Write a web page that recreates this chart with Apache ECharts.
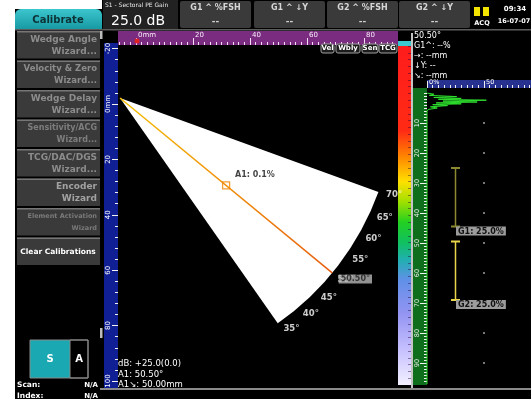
<!DOCTYPE html>
<html>
<head>
<meta charset="utf-8">
<script src="https://cdn.jsdelivr.net/npm/echarts@6/dist/echarts.min.js"></script>
<style>
  html, body { margin: 0; padding: 0; background: #fff; }
  #chart { width: 531px; height: 399px; }
</style>
</head>
<body>
<div id="chart"></div>
<script>
// ---- data ----
const fanAngles = [35, 70];                 // sector beam angles (deg)
const fanDepth = 100;                       // sound path at the arc (mm)
const arcLabelAngles = [35, 40, 45, 50, 55, 60, 65, 70];
const beamAngle = 50.5;
const cursorPath = 50;                      // A1 cursor sound path (mm)
const cursorReading = "A1: 0.1%";

const rulerXMajor = [0, 20, 40, 60, 80];
const rulerYMajor = [-20, 0, 20, 40, 60, 80, 100];
const ascanDepthMajor = [10, 20, 30, 40, 50, 60, 70, 80, 90];
const ascanAmpMajor = [0, 50];

// A-scan trace: [amplitude %, depth]
const ascanTrace = [
  [0, 0], [6, 0.4], [2, 0.8], [26, 1.2], [6, 1.5], [30, 1.8], [10, 2.1],
  [52, 2.4], [14, 2.7], [44, 3.0], [8, 3.3], [30, 3.6], [5, 3.9], [18, 4.2],
  [3, 4.6], [9, 5.0], [1, 5.5], [0, 6.2], [0, 97],
];
const gate1 = [[25, 25], [25, 44.5]];
const gate2 = [[25, 49.5], [25, 69]];
const gateLabels = ["G1: 25.0%", "G2: 25.0%"];
const gridDotDepths = [10, 20, 30, 40, 50, 60, 70, 80, 90];
const gridDotAmp = 50;

const wizardButtons = [
  { text: "Wedge Angle\nWizard...", color: "#8c8c8c", size: 9 },
  { text: "Velocity & Zero\nWizard...", color: "#8c8c8c", size: 8.5 },
  { text: "Wedge Delay\nWizard...", color: "#8c8c8c", size: 9 },
  { text: "Sensitivity/ACG\nWizard...", color: "#7e7e7e", size: 8 },
  { text: "TCG/DAC/DGS\nWizard...", color: "#8c8c8c", size: 9 },
  { text: "Encoder\nWizard", color: "#a2a2a2", size: 9 },
  { text: "Element Activation\nWizard", color: "#7a7a7a", size: 6.5 },
  { text: "Clear Calibrations", color: "#ffffff", size: 7.5 },
];
const headerCells = ["G1 ^ %FSH", "G1 ^ \u2193Y", "G2 ^ %FSH", "G2 ^ \u2193Y"];
const readouts = ["50.50\u00b0", "G1^: --%", "\u2192: --mm", "\u2193Y: --", "\u2198: --mm"];
const scanReadouts = ["dB: +25.0(0.0)", "A1: 50.50\u00b0", "A1\u2198: 50.00mm"];
const toolButtons = ["Vel", "Wbly", "Sen", "TCG"];

// ---- layout ----
const FONT = '"DejaVu Sans", sans-serif';
const PX_POLAR = 2.75;      // px per mm along the beam
const PX_RULER_X = 2.85;    // px per mm, top ruler
const PX_RULER_Y = 2.77;    // px per mm, left ruler
const PX_DEPTH = 3;         // px per unit, A-scan depth
const PX_AMP = 1.14;        // px per %, A-scan amplitude
const apex = [120, 98];

const steps = (from, to, step) => {
  const out = [];
  for (let v = from; v <= to + 1e-9; v += step) out.push(+v.toFixed(3));
  return out;
};

const rect = (x, y, w, h, fill, o = {}) => ({
  type: "rect", silent: true, z: o.z ?? -5,
  shape: { x, y, width: w, height: h, r: o.r || 0 },
  style: { fill, stroke: o.stroke || null, lineWidth: o.lw || 0 },
});
const text = (x, y, t, font, fill, align = "left", o = {}) => ({
  type: "text", silent: true, z: o.z ?? 50, x, y,
  style: { text: t, font, fill, align, verticalAlign: o.va || "middle", lineHeight: o.lh },
});

const g = [];
// screen background
g.push(rect(15, 9, 516, 390, "#000", { z: -10 }));
g.push(rect(102, 0, 429, 9, "#000", { z: -10 }));
// header
g.push(rect(15, 9, 87, 21, new echarts.graphic.LinearGradient(0, 0, 0, 1, [
  { offset: 0, color: "#3cc6ce" }, { offset: 1, color: "#1597a0" },
]), { r: [6, 6, 0, 0] }));
g.push(text(58, 20, "Calibrate", `bold 10px ${FONT}`, "#0c3236", "center"));
g.push(rect(103, 0, 75, 29, "#222"));
g.push(text(105, 5, "S1 - Sectoral PE Gain", `6px ${FONT}`, "#e8e8e8"));
g.push(text(111, 21, "25.0 dB", `14px ${FONT}`, "#fff"));
const cellX = [180, 254, 327, 399];
headerCells.forEach((t, i) => {
  g.push(rect(cellX[i], 1, 71, 27, "#3a3a3a", { r: 2 }));
  g.push(text(cellX[i] + 35.5, 8, t, `bold 8px ${FONT}`, "#d6d6d6", "center"));
  g.push(text(cellX[i] + 35.5, 22, "--", `bold 9px ${FONT}`, "#d0d0d0", "center"));
});
g.push(rect(474, 7, 6, 9, "#f2e400", { z: 40 }));
g.push(rect(483, 7, 6, 9, "#f2e400", { z: 40 }));
g.push(text(482, 23, "ACQ", `bold 6.5px ${FONT}`, "#fff", "center"));
g.push(text(515, 9, "09:34", `bold 7px ${FONT}`, "#fff", "center"));
g.push(text(514, 21, "16-07-07", `bold 6.5px ${FONT}`, "#fff", "center"));
g.push(rect(15, 29, 516, 1.5, "#5c5c5c"));

// left wizard buttons
wizardButtons.forEach((b, i) => {
  const y = 31 + i * 29.5;
  g.push(rect(17, y, 83, 27.5, "#3a3a3a"));
  g.push(rect(17, y, 83, 1.5, "#777"));
  const last = i === wizardButtons.length - 1;
  g.push(text(last ? 58 : 97, y + 14.5, b.text, `bold ${b.size}px ${FONT}`, b.color,
    last ? "center" : "right", { lh: 12 }));
});
g.push(rect(100, 31, 2.5, 8, "#bbb"));
g.push(rect(100, 328, 2.5, 10, "#bbb"));
// S / A view selector
g.push(rect(30, 340, 40, 38, "#1aa8b2", { z: 10 }));
g.push(rect(70, 340, 18, 38, "#000", { z: 10, stroke: "#8a8a8a", lw: 1 }));
g.push(rect(30, 340, 58, 38, null, { z: 11, stroke: "#8a8a8a", lw: 1 }));
g.push(text(50, 359, "S", `bold 10px ${FONT}`, "#fff", "center"));
g.push(text(79, 359, "A", `bold 10px ${FONT}`, "#fff", "center"));
g.push(text(17, 385, "Scan:", `bold 7.5px ${FONT}`, "#fff"));
g.push(text(98, 385, "N/A", `bold 7px ${FONT}`, "#fff", "right"));
g.push(text(17, 396, "Index:", `bold 7.5px ${FONT}`, "#fff"));
g.push(text(98, 396, "N/A", `bold 7px ${FONT}`, "#fff", "right"));

// rulers and colour bar bands
g.push(rect(118, 31, 280, 14, "#7a2c80"));
g.push(rect(104, 43, 14, 345, "#101f93"));
g.push(rect(398, 41, 13, 5, "#3cc8d0"));
g.push(rect(398, 46, 13, 339, new echarts.graphic.LinearGradient(0, 0, 0, 1, [
  { offset: 0.0, color: "#ff1c1c" },
  { offset: 0.25, color: "#ff2a14" },
  { offset: 0.33, color: "#ff8a00" },
  { offset: 0.40, color: "#ffe000" },
  { offset: 0.46, color: "#a0e000" },
  { offset: 0.52, color: "#22d020" },
  { offset: 0.58, color: "#10c060" },
  { offset: 0.63, color: "#20b0b0" },
  { offset: 0.69, color: "#6090e8" },
  { offset: 0.79, color: "#9494f2" },
  { offset: 0.90, color: "#c8c2ff" },
  { offset: 1.0, color: "#f2f0ff" },
])));
g.push(rect(411, 33, 2, 355, "#c4c4c4"));
g.push(rect(413, 88, 14, 297, "#0f6e1c"));
g.push(rect(427, 80, 104, 8, "#27318f"));
g.push(rect(100, 388, 431, 2, "#8a8a8a", { z: 40 }));

// overlays
g.push({ type: "circle", silent: true, z: 40, shape: { cx: 137, cy: 41, r: 2.5 }, style: { fill: "#e02222" } });
const toolX = [321, 336, 362, 379];
const toolW = [13, 24, 16, 18];
toolButtons.forEach((t, i) => {
  g.push(rect(toolX[i], 44, toolW[i], 9, "#1c1c1c", { z: 40, r: 2, stroke: "#a0a0a0", lw: 1 }));
  g.push(text(toolX[i] + toolW[i] / 2, 48.5, t, `bold 7px ${FONT}`, "#fff", "center"));
});
readouts.forEach((t, i) => g.push(text(414, 36 + i * 10, t, `8px ${FONT}`, "#fff")));
scanReadouts.forEach((t, i) => g.push(text(118, 364 + i * 10.5, t, `8.5px ${FONT}`, "#fff")));

// ---- axes ----
const tickColor = "#f2f2f2";
const hideAxis = { axisLine: { show: false, onZero: false }, splitLine: { show: false } };
const xMin = (118 - 136) / PX_RULER_X, xMax = (398 - 136) / PX_RULER_X;
const yMin = (45 - 104) / PX_RULER_Y, yMax = (388 - 104) / PX_RULER_Y;
const ampMax = 104 / PX_AMP, depthMax = 292 / PX_DEPTH;

const xAxis = [
  { gridIndex: 0, type: "value", position: "top", min: xMin, max: xMax, ...hideAxis,
    axisTick: { customValues: rulerXMajor, length: 7, lineStyle: { color: "#f4dcf4" } },
    axisLabel: { customValues: rulerXMajor, formatter: (v) => (v === 0 ? "0mm" : v), margin: 6,
      align: "left", padding: [0, 0, 0, 2], color: "#f8eaf8", fontSize: 7, fontFamily: FONT } },
  { gridIndex: 0, type: "value", position: "top", min: xMin, max: xMax, ...hideAxis,
    axisTick: { customValues: steps(-6, 90, 2), length: 3, lineStyle: { color: "#f4dcf4" } },
    axisLabel: { show: false } },
  { gridIndex: 1, type: "value", position: "top", offset: 5, min: 0, max: ampMax, ...hideAxis,
    axisTick: { customValues: ascanAmpMajor, length: 7, lineStyle: { color: tickColor } },
    axisLabel: { customValues: ascanAmpMajor, formatter: (v) => (v === 0 ? "0%" : v), margin: 2,
      align: "left", padding: [0, 0, 0, 2], color: "#fff", fontSize: 6.5, fontFamily: FONT } },
  { gridIndex: 1, type: "value", position: "top", offset: 5, min: 0, max: ampMax, ...hideAxis,
    axisTick: { customValues: steps(0, 90, 5), length: 3, lineStyle: { color: tickColor } },
    axisLabel: { show: false } },
  { gridIndex: 2, type: "value", show: false, min: 0, max: 1 },
];

const yAxis = [
  { gridIndex: 0, type: "value", position: "left", inverse: true, min: yMin, max: yMax, ...hideAxis,
    axisTick: { customValues: rulerYMajor, length: 6, lineStyle: { color: tickColor } },
    axisLabel: { customValues: rulerYMajor, formatter: (v) => (v === 0 ? "0mm" : v), rotate: 90,
      margin: 6, color: "#fff", fontSize: 7, fontFamily: FONT } },
  { gridIndex: 0, type: "value", position: "left", inverse: true, min: yMin, max: yMax, ...hideAxis,
    axisTick: { customValues: steps(-20, 100, 4), length: 3, lineStyle: { color: tickColor } },
    axisLabel: { show: false } },
  { gridIndex: 1, type: "value", position: "left", inverse: true, min: 0, max: depthMax, ...hideAxis,
    axisTick: { customValues: ascanDepthMajor, length: 7, lineStyle: { color: tickColor } },
    axisLabel: { customValues: ascanDepthMajor, rotate: 90, margin: 6, color: "#f0f0f0",
      fontSize: 6.5, fontFamily: FONT } },
  { gridIndex: 1, type: "value", position: "left", inverse: true, min: 0, max: depthMax, ...hideAxis,
    axisTick: { customValues: steps(0, 96, 1), length: 3, lineStyle: { color: tickColor } },
    axisLabel: { show: false } },
  { gridIndex: 2, type: "value", position: "right", min: 0, max: 100, ...hideAxis,
    axisTick: { inside: true, customValues: steps(0, 100, 2), length: 3,
      lineStyle: { color: "rgba(30,0,50,0.45)" } },
    axisLabel: { show: false } },
];

const option = {
  animation: false,
  backgroundColor: "#fff",
  graphic: { elements: g },
  grid: [
    { left: 118, top: 45, width: 280, height: 343 },
    { left: 427, top: 93, right: 0, bottom: 14 },
    { left: 398, top: 46, width: 13, bottom: 14 },
  ],
  xAxis,
  yAxis,
  polar: { center: apex, radius: 290 },
  angleAxis: { type: "value", min: 0, max: 360, startAngle: 270, clockwise: false, show: false },
  radiusAxis: { type: "value", min: 0, max: 290 / PX_POLAR, show: false },
  series: [
    {
      type: "pie", silent: true, center: apex, radius: fanDepth * PX_POLAR,
      startAngle: (fanAngles[1] - 90 + 360) % 360, clockwise: true,
      label: { show: false }, labelLine: { show: false },
      itemStyle: { borderWidth: 0 },
      data: [
        { value: fanAngles[1] - fanAngles[0], itemStyle: { color: "#ffffff" } },
        { value: 360 - (fanAngles[1] - fanAngles[0]), itemStyle: { color: "rgba(0,0,0,0)" } },
      ],
    },
    {
      type: "line", coordinateSystem: "polar", silent: true, symbol: "none", z: 3,
      lineStyle: { width: 1.5, color: new echarts.graphic.LinearGradient(0, 0, 1, 1, [
        { offset: 0, color: "#f6c000" }, { offset: 1, color: "#e85c10" },
      ]) },
      data: [[0, beamAngle], [fanDepth, beamAngle]],
    },
    {
      type: "scatter", coordinateSystem: "polar", silent: true, z: 4,
      symbol: "rect", symbolSize: 7,
      itemStyle: { color: "rgba(0,0,0,0)", borderColor: "#f08400", borderWidth: 1.3 },
      label: { show: true, formatter: cursorReading, position: [13, -10], color: "#111",
        fontWeight: "bold", fontSize: 8, fontFamily: FONT },
      data: [[cursorPath, beamAngle]],
    },
    {
      type: "scatter", coordinateSystem: "polar", silent: true, z: 4, symbolSize: 1,
      itemStyle: { color: "rgba(0,0,0,0)" },
      label: { show: true, formatter: (p) => p.value[1] + "\u00b0", position: "right", distance: 2,
        offset: [0, 1], color: "#fff", fontWeight: "bold", fontSize: 8.5, fontFamily: FONT },
      data: arcLabelAngles.map((a) => [fanDepth + 2, a]),
    },
    {
      type: "scatter", coordinateSystem: "polar", silent: true, z: 5, symbolSize: 1,
      itemStyle: { color: "rgba(0,0,0,0)" },
      label: { show: true, formatter: beamAngle.toFixed(2) + "\u00b0", position: [7, 2],
        backgroundColor: "#b6b6b6", padding: [1, 2, 0, 2], color: "#1a1a1a",
        fontWeight: "bold", fontSize: 8, fontFamily: FONT },
      data: [[fanDepth, beamAngle]],
    },
    {
      type: "line", xAxisIndex: 2, yAxisIndex: 2, silent: true, symbol: "none",
      lineStyle: { width: 1, color: "#2ee02e" },
      data: ascanTrace,
    },
    {
      type: "scatter", xAxisIndex: 2, yAxisIndex: 2, silent: true, symbolSize: 2,
      itemStyle: { color: "#c8c8c8" },
      data: gridDotDepths.map((d) => [gridDotAmp, d]),
    },
    ...[gate1, gate2].map((gate, i) => ({
      type: "line", xAxisIndex: 2, yAxisIndex: 2, silent: true,
      symbol: "rect", symbolSize: [9, 2], showSymbol: true,
      lineStyle: { width: 1.5, color: i === 0 ? "#8c8832" : "#e8d44a" },
      itemStyle: { color: i === 0 ? "#8c8832" : "#e8d44a" },
      data: [
        { value: gate[0] },
        { value: gate[1], label: { show: true, formatter: gateLabels[i], position: [5, 1],
          backgroundColor: "#9c9c9c", padding: [1, 2, 0, 2], color: "#111",
          fontWeight: "bold", fontSize: 8, fontFamily: FONT } },
      ],
    })),
  ],
};

const chart = echarts.init(document.getElementById("chart"));
chart.setOption(option);
</script>
</body>
</html>
